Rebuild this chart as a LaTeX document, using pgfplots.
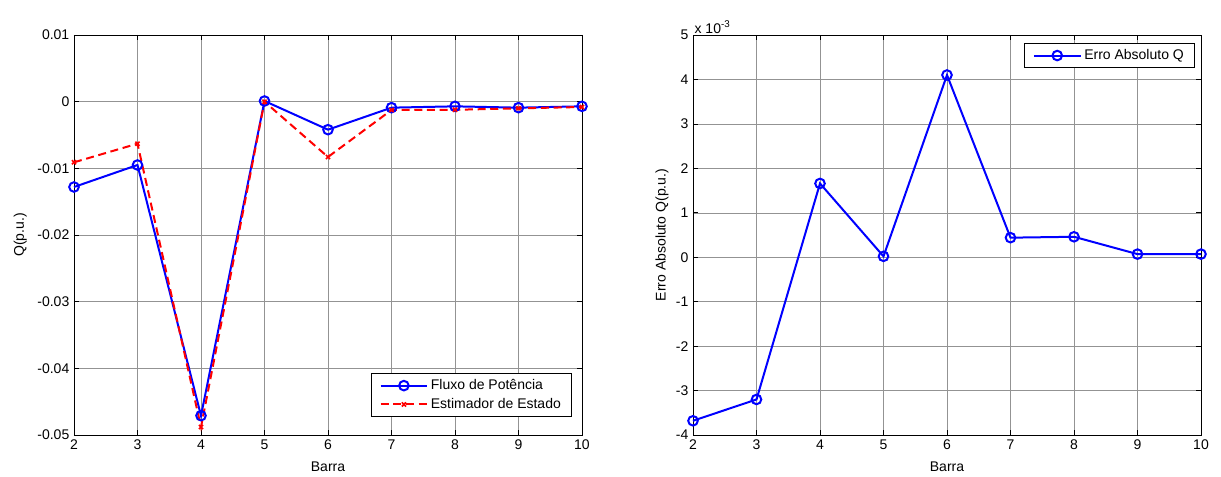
\documentclass[border=0pt]{standalone}
\usepackage{pgfplots}
\pgfplotsset{compat=1.18}
\usepackage{fontspec}
\setmainfont{Liberation Sans}
\begin{document}
\begin{tikzpicture}
\useasboundingbox (0pt,0pt) rectangle (915.75pt,357pt);
\pgfplotsset{
  common/.style={
    scale only axis,
    width=381pt, height=300pt,
    xmin=2, xmax=10,
    xtick={2,3,...,10},
    grid=major,
    major grid style={gray!85, line width=0.4pt},
    tick align=inside,
    major tick length=4pt,
    tick style={black, line width=0.5pt},
    axis line style={black, line width=0.7pt},
    scaled y ticks=false, scaled x ticks=false,
    /pgf/number format/assume math mode=true,
    tick label style={font=\fontsize{10.5}{12}\selectfont},
    label style={font=\fontsize{10.5}{12}\selectfont},
    legend style={font=\fontsize{10.5}{12}\selectfont, draw=black, line width=0.7pt, inner ysep=2.5pt, inner xsep=6pt, row sep=1pt,
      legend cell align=left},
    legend image code/.code={\draw[mark repeat=2,mark phase=2,#1] plot coordinates {(0pt,0pt)(17.5pt,0pt)(35pt,0pt)};},
    xlabel style={at={(axis description cs:0.5,-0.08)}, anchor=center},
    clip=false,
  }
}
\begin{axis}[common, at={(55.5pt,30.75pt)}, anchor=south west,
  ymin=-0.05, ymax=0.01,
  ytick={-0.05,-0.04,-0.03,-0.02,-0.01,0,0.01},
  yticklabels={-0.05,-0.04,-0.03,-0.02,-0.01,0,0.01},
  xlabel={Barra}, ylabel={Q(p.u.)},
  ylabel style={at={(axis description cs:-0.106,0.5)}, anchor=center},
  legend style={at={(rel axis cs:1,0)}, anchor=south east, xshift=-7.5pt, yshift=13.5pt},
]
\addplot[blue, line width=1.5pt, mark=o, mark size=3.6pt, mark options={solid, line width=1.5pt}]
  coordinates {(2,-0.0128)(3,-0.0095)(4,-0.0471)(5,0.0001)(6,-0.0042)(7,-0.0009)(8,-0.0007)(9,-0.0009)(10,-0.0007)};
\addlegendentry{Fluxo de Potência}
\addplot[red, line width=1.5pt, dash pattern=on 6pt off 3.5pt, mark=x, mark size=2.2pt, mark options={solid, line width=1.2pt}]
  coordinates {(2,-0.0091)(3,-0.0063)(4,-0.0488)(5,0.0000)(6,-0.0083)(7,-0.00125)(8,-0.00122)(9,-0.0010)(10,-0.0008)};
\addlegendentry{Estimador de Estado}
\end{axis}
\begin{axis}[common, at={(519.75pt,30.75pt)}, anchor=south west,
  ymin=-0.004, ymax=0.005,
  ytick={-0.004,-0.003,-0.002,-0.001,0,0.001,0.002,0.003,0.004,0.005},
  yticklabels={-4,-3,-2,-1,0,1,2,3,4,5},
  xlabel={Barra}, ylabel={Erro Absoluto Q(p.u.)},
  ylabel style={at={(axis description cs:-0.061,0.5)}, anchor=center},
  legend style={at={(rel axis cs:1,1)}, anchor=north east, xshift=-4.5pt, yshift=-6pt},
]
\addplot[blue, line width=1.5pt, mark=o, mark size=3.6pt, mark options={solid, line width=1.5pt}]
  coordinates {(2,-0.00368)(3,-0.0032)(4,0.00166)(5,0.00002)(6,0.0041)(7,0.00044)(8,0.00046)(9,0.00007)(10,0.00007)};
\addlegendentry{Erro Absoluto Q}
\node[anchor=south west, inner sep=1pt, font=\fontsize{10.5}{12}\selectfont] at (rel axis cs:0,1) {x 10\textsuperscript{-3}};
\end{axis}
\end{tikzpicture}
\end{document}
